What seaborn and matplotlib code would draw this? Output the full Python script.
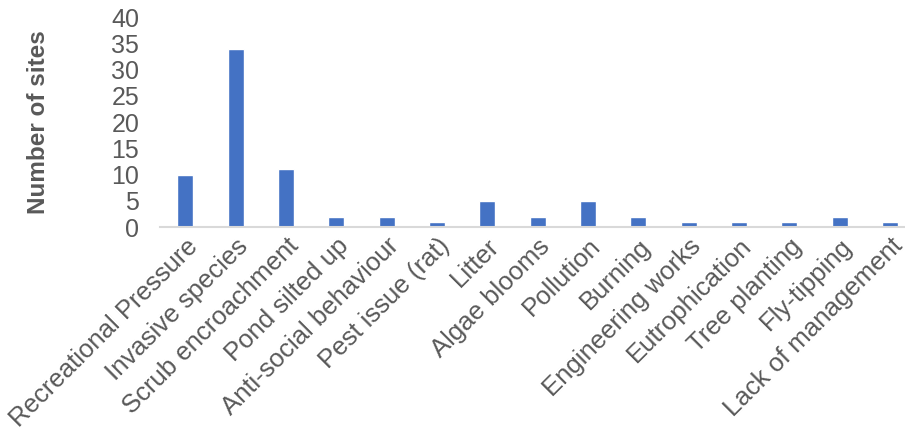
import matplotlib
matplotlib.use("Agg")
import matplotlib.pyplot as plt
import seaborn as sns
import pandas as pd

# Issues recorded at sites
issues = [
    "Recreational Pressure", "Invasive species", "Scrub encroachment",
    "Pond silted up", "Anti-social behaviour", "Pest issue (rat)", "Litter",
    "Algae blooms", "Pollution", "Burning", "Engineering works",
    "Eutrophication", "Tree planting", "Fly-tipping", "Lack of management",
]
sites = [10, 34, 11, 2, 2, 1, 5, 2, 5, 2, 1, 1, 1, 2, 1]

df = pd.DataFrame({"issue": issues, "sites": sites})

sns.set_theme(style="white")
plt.rcParams["font.family"] = ["Liberation Sans", "DejaVu Sans"]

fig = plt.figure(figsize=(9.05, 4.30), dpi=100)
ax = fig.add_axes([0.177, 0.472, 0.823, 0.488])

sns.barplot(data=df, x="issue", y="sites", color="#4472C4",
            saturation=1, width=0.32, ax=ax)

ax.set_ylim(0, 40)
ax.set_yticks(range(0, 41, 5))
ax.set_xlim(-0.5, 14.3)
ax.set_xlabel("")
ax.set_ylabel("Number of sites", fontsize=17.5, fontweight="bold",
              color="#595959", labelpad=44)
ax.tick_params(axis="y", labelsize=18, labelcolor="#595959", length=0, pad=15)
ax.tick_params(axis="x", labelsize=18.5, labelcolor="#595959", length=0, pad=5)
plt.setp(ax.get_xticklabels(), rotation=45, ha="right", rotation_mode="anchor")

for s in ["top", "right", "left"]:
    ax.spines[s].set_visible(False)
ax.spines["bottom"].set_color("#D9D9D9")
ax.spines["bottom"].set_linewidth(1.5)

fig.savefig("out.png", dpi=100)
